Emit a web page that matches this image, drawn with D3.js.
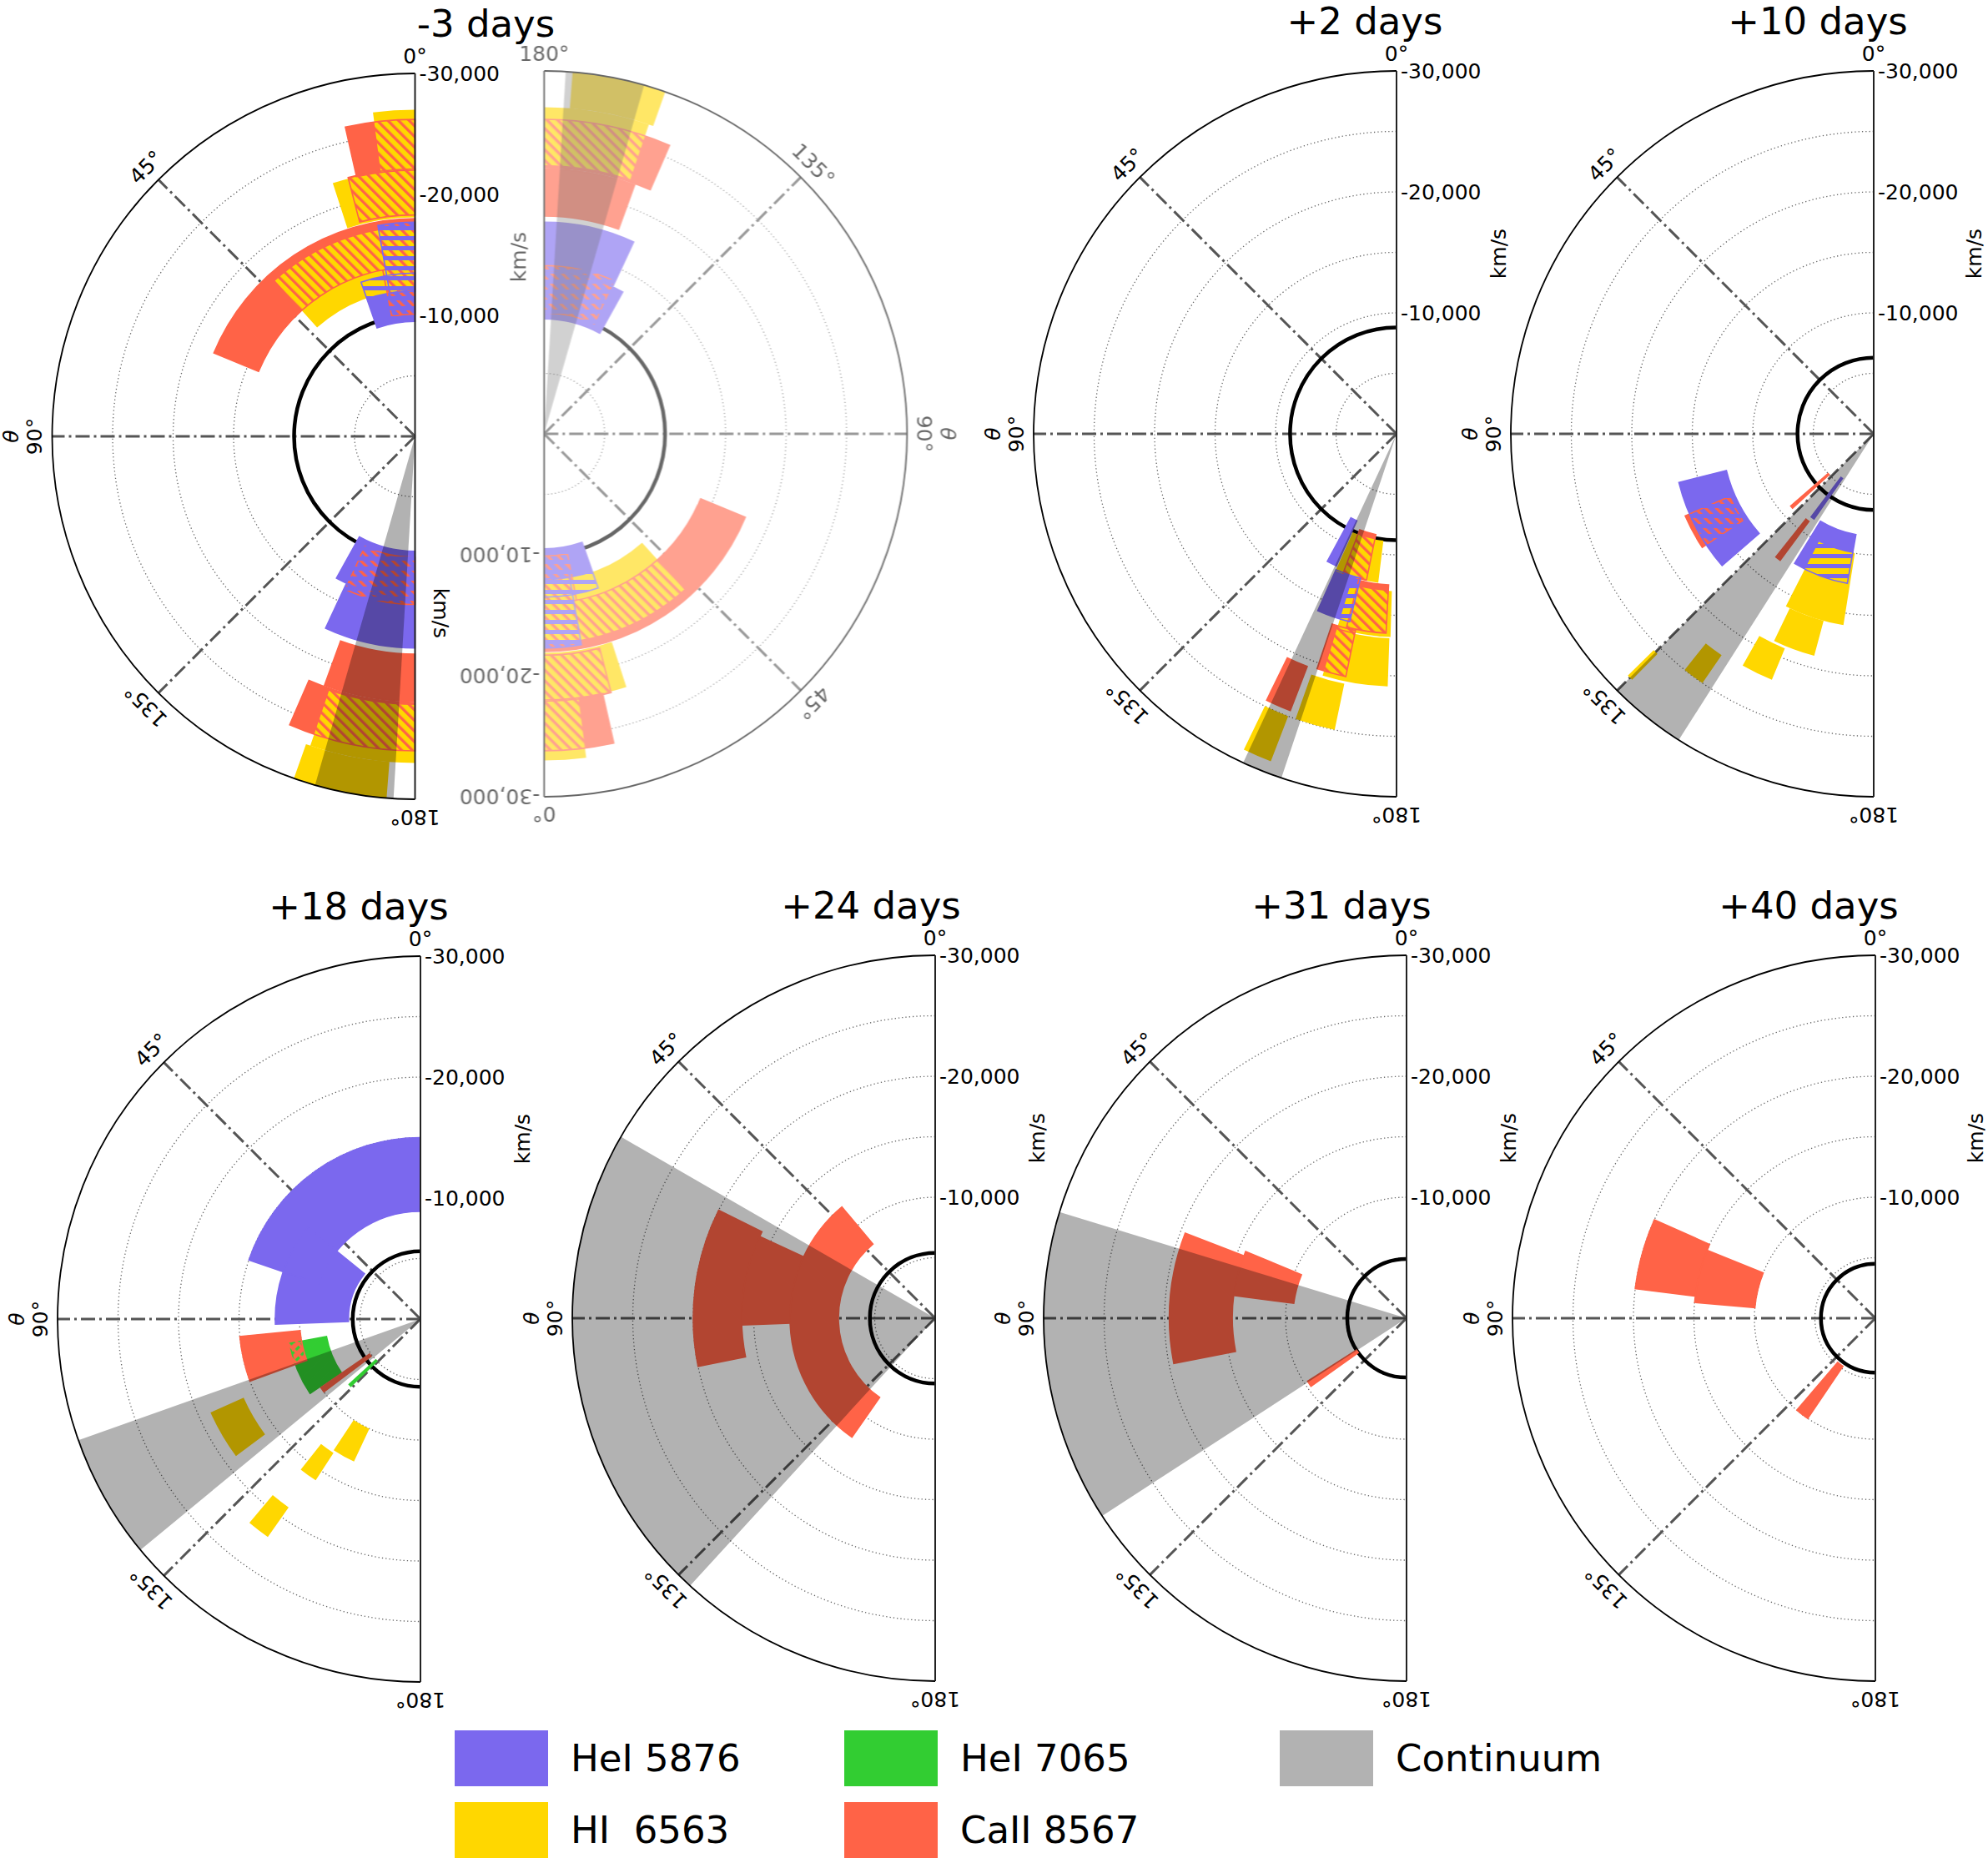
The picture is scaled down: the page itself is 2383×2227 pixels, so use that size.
<!DOCTYPE html>
<html><head><meta charset="utf-8">
<script src="https://cdn.jsdelivr.net/npm/d3@7"></script>
<style>
body{margin:0;background:#fff}
text{font-family:"DejaVu Sans",sans-serif}
</style>
</head><body>
<svg id="chart" width="2383" height="2227"></svg>
<script>
// ---------------- DATA ----------------
const epochs = ["-3 days","+2 days","+10 days","+18 days","+24 days","+31 days","+40 days"];
const lineNames = ["HeI 5876","HI  6563","HeI 7065","CaII 8567","Continuum"];
const lineColors = ["#7B68EE","#FFD700","#32CD32","#FF6347","#000000"];
// photospheric velocity (black half circle), km/s
const photosphereVel = [-10000,-8800,-6300,-5600,-5400,-4900,-4500];
const velocityTicks = [-10000,-20000,-30000];
const gridVelocities = [-5000,-10000,-15000,-20000,-25000];
const angleTicks = [0,45,90,135,180];
const spokeAngles = [45,90,135];

// bars: [epoch, theta start (deg), theta end (deg), velocity inner (km/s), velocity outer (km/s)]
const HeI5876 = [
 ["-3 days",0,19.3,-9500,-13500],
 ["-3 days",0,10,-12000,-17700],
 ["-3 days",151,180,-9500,-13400],
 ["-3 days",155,180,-13500,-17500],
 ["+2 days",151.5,155.5,-7900,-12000],
 ["+2 days",156,166,-12300,-16000],
 ["+10 days",104,131,-12550,-16600],
 ["+10 days",148.6,170,-8450,-12550],
 ["+10 days",143,145,-4500,-8600],
 ["+18 days",0,71,-8900,-15000],
 ["+18 days",51,92,-5950,-12000]
];
const HI6563 = [
 ["-3 days",0,7.4,-21900,-27000],
 ["-3 days",0,18,-18100,-22000],
 ["-3 days",0,42,-12100,-17300],
 ["-3 days",161.3,180,-22200,-27000],
 ["-3 days",160.5,175.5,-27000,-30000],
 ["+2 days",156,173,-8900,-12400],
 ["+2 days",163,178.3,-13000,-16800],
 ["+2 days",163,178,-16900,-20900],
 ["+2 days",160.5,168.2,-21100,-25000],
 ["+2 days",154.2,159,-25000,-29000],
 ["+10 days",153,171,-10000,-16000],
 ["+10 days",154.3,165,-16000,-19000],
 ["+10 days",150.5,157.5,-19200,-22000],
 ["+10 days",141.3,145.5,-22200,-25000],
 ["+10 days",134.5,135.5,-25500,-28500],
 ["+18 days",114,126.6,-16000,-19000],
 ["+18 days",146.5,155,-10000,-13000],
 ["+18 days",141.5,147,-13200,-15900],
 ["+18 days",140,145,-19000,-22000]
];
const HeI7065 = [
 ["+18 days",100.5,124,-7900,-11000],
 ["+18 days",132.5,134,-5000,-8000]
];
const CaII8567 = [
 ["-3 days",0,12.7,-22000,-26200],
 ["-3 days",0,14.5,-18300,-22100],
 ["-3 days",0,67.5,-14000,-18000],
 ["-3 days",0,11,-10100,-14000],
 ["-3 days",155.5,180,-10000,-13900],
 ["-3 days",160,180,-18000,-21900],
 ["-3 days",156.5,180,-22000,-26000],
 ["+2 days",159,168.4,-8500,-12350],
 ["+2 days",165.5,177,-12500,-16500],
 ["+2 days",161.3,168.2,-16600,-20500],
 ["+2 days",154,159,-20600,-24500],
 ["+10 days",113.5,123.5,-13000,-17000],
 ["+10 days",131,132.5,-5000,-9100],
 ["+10 days",141.5,143.5,-9000,-13000],
 ["+18 days",95.5,110,-10000,-15000],
 ["+18 days",124.5,127,-5100,-10000],
 ["+24 days",40,145,-8000,-12000],
 ["+24 days",63.5,101.5,-16000,-20000],
 ["+24 days",65,92,-12000,-16000],
 ["+31 days",69,101,-14400,-19600],
 ["+31 days",67.5,82.5,-9400,-14400],
 ["+31 days",122.5,125.5,-4900,-9700],
 ["+40 days",66,83,-15000,-20000],
 ["+40 days",68,85,-10000,-15000],
 ["+40 days",139.5,146,-4800,-10000]
];
// continuum: [epoch, theta start, theta end]
const continuum = [
 ["-3 days",164,176.6],
 ["+2 days",155,161.5],
 ["+10 days",135,147.5],
 ["+18 days",109.5,129.5],
 ["+24 days",60,137.5],
 ["+31 days",73,123]
];

// ---------------- LAYOUT ----------------
const W = 2383, H = 2227, R = 435;
const layout = [
 {cx:497.5, cy:523, titleDx:85,  kms:[31,212,90]},
 {cx:1674,  cy:520, titleDx:-38, kms:[122,-216,-90]},
 {cx:2246,  cy:520, titleDx:-67, kms:[120,-216,-90]},
 {cx:504,   cy:1581,titleDx:-74, kms:[122,-216,-90]},
 {cx:1121,  cy:1580,titleDx:-77, kms:[122,-216,-90]},
 {cx:1686,  cy:1580,titleDx:-78, kms:[122,-216,-90]},
 {cx:2248,  cy:1580,titleDx:-80, kms:[120,-216,-90]}
];
const mirrorCenter = [652.3, 520];

const svg = d3.select("#chart");
svg.append("rect").attr("width",W).attr("height",H).attr("fill","#fff");
const defs = svg.append("defs");

function stripePattern(id, color, size, width, rot){
  const p = defs.append("pattern").attr("id",id).attr("patternUnits","userSpaceOnUse")
    .attr("width",size).attr("height",size).attr("patternTransform",`rotate(${rot})`);
  p.append("rect").attr("x",0).attr("y",0).attr("width",width).attr("height",size).attr("fill",color);
}
stripePattern("hatch-ca", lineColors[3], 9, 3.3, -45);
stripePattern("hatch-he7", lineColors[2], 9, 3.3, 45);
stripePattern("hatch-he5", lineColors[0], 12, 5, 90);

const series = [
 {bars:HeI7065, color:lineColors[2], hatch:"hatch-he7"},
 {bars:CaII8567, color:lineColors[3], hatch:"hatch-ca"},
 {bars:HeI5876, color:lineColors[0], hatch:"hatch-he5"},
 {bars:HI6563,  color:lineColors[1], hatch:null}
];

const rScale = d3.scaleLinear().domain([0,-30000]).range([0,R]);
const aScale = d3.scaleLinear().domain([0,180]).range([0,-Math.PI]);
const arc = d3.arc();
const fmt = d3.formatLocale({decimal:".",thousands:",",grouping:[3],currency:["",""],minus:"-"}).format(",");

function wedge(d){
  return arc({innerRadius:rScale(d[3]), outerRadius:rScale(d[4]), startAngle:aScale(d[1]), endAngle:aScale(d[2])});
}
function pt(theta, r){ const a = aScale(theta); return [r*Math.sin(a), -r*Math.cos(a)]; }
function semicircle(r){ return `M0,${-r}A${r},${r} 0 0 0 0,${r}`; }

function drawPanel(g, i, withTitle){
  const ep = epochs[i];
  const L = layout[i];
  // dotted grid
  g.selectAll("path.grid").data(gridVelocities).join("path").attr("class","grid")
    .attr("d", v=>semicircle(rScale(v))).attr("fill","none")
    .attr("stroke","#666").attr("stroke-width",1.3).attr("stroke-dasharray","1.3,3");
  // spokes
  g.selectAll("line.spoke").data(spokeAngles).join("line").attr("class","spoke")
    .attr("x1",0).attr("y1",0).attr("x2",d=>pt(d,R)[0]).attr("y2",d=>pt(d,R)[1])
    .attr("stroke","#555").attr("stroke-width",3).attr("stroke-dasharray","17,5,3,5");
  // photosphere
  g.append("path").attr("d", semicircle(rScale(photosphereVel[i]))).attr("fill","none")
    .attr("stroke","#000").attr("stroke-width",4.5);
  // solid bars
  series.forEach(s=>{
    g.append("g").selectAll("path").data(s.bars.filter(d=>d[0]===ep)).join("path")
      .attr("d", wedge).attr("fill", s.color);
  });
  // hatch overlays
  series.filter(s=>s.hatch).forEach(s=>{
    g.append("g").selectAll("path").data(s.bars.filter(d=>d[0]===ep)).join("path")
      .attr("d", wedge).attr("fill", `url(#${s.hatch})`).attr("stroke", s.color).attr("stroke-width",1.6);
  });
  // continuum
  g.append("g").selectAll("path").data(continuum.filter(d=>d[0]===ep)).join("path")
    .attr("d", d=>arc({innerRadius:0, outerRadius:R, startAngle:aScale(d[1]), endAngle:aScale(d[2])}))
    .attr("fill","#000").attr("fill-opacity",0.3);
  // frame
  g.append("path").attr("d", semicircle(R)).attr("fill","none").attr("stroke","#000").attr("stroke-width",1.8);
  g.append("line").attr("x1",0).attr("y1",-R).attr("x2",0).attr("y2",R).attr("stroke","#222").attr("stroke-width",2);
  // angle labels
  g.selectAll("text.ang").data(angleTicks).join("text").attr("class","ang")
    .attr("transform", d=>{const p=pt(d,R+21); return `translate(${p[0]},${p[1]}) rotate(${-d})`;})
    .attr("text-anchor","middle").attr("dominant-baseline","central")
    .attr("font-size",25).text(d=>d+"°");
  // radial tick labels
  g.selectAll("text.rt").data(velocityTicks).join("text").attr("class","rt")
    .attr("x",5).attr("y",d=>-rScale(d)).attr("dominant-baseline","central")
    .attr("font-size",25).text(d=>fmt(d));
  // theta label
  g.append("text").attr("transform",`translate(${-(R+49)},0) rotate(-90)`)
    .attr("text-anchor","middle").attr("dominant-baseline","central")
    .attr("font-size",25).attr("font-style","italic").text("θ");
  // km/s label
  g.append("text").attr("transform",`translate(${L.kms[0]},${L.kms[1]}) rotate(${L.kms[2]})`)
    .attr("text-anchor","middle").attr("dominant-baseline","central")
    .attr("font-size",25).text("km/s");
  if(withTitle){
    g.append("text").attr("x",L.titleDx).attr("y",-479).attr("text-anchor","middle")
      .attr("font-size",45).text(ep);
  }
}

epochs.forEach((ep,i)=>{
  const g = svg.append("g").attr("transform",`translate(${layout[i].cx},${layout[i].cy})`);
  drawPanel(g, i, true);
});
// mirrored (rotated) copy of the first epoch
const gm = svg.append("g").attr("transform",`translate(${mirrorCenter[0]},${mirrorCenter[1]}) rotate(180)`).attr("opacity",0.6);
drawPanel(gm, 0, false);

// ---------------- LEGEND ----------------
const legendCols = [545, 1012, 1534];
const legendRows = [2074, 2160];
const legendPos = [[0,0],[0,1],[1,0],[1,1],[2,0]];
const lg = svg.append("g");
lineNames.forEach((name,i)=>{
  const x = legendCols[legendPos[i][0]], y = legendRows[legendPos[i][1]];
  lg.append("rect").attr("x",x).attr("y",y).attr("width",112).attr("height",67)
    .attr("fill",lineColors[i]).attr("fill-opacity", i===4?0.3:1);
  lg.append("text").attr("x",x+139).attr("y",y+49).attr("font-size",45)
    .style("white-space","pre").text(name);
});
</script>
</body></html>
